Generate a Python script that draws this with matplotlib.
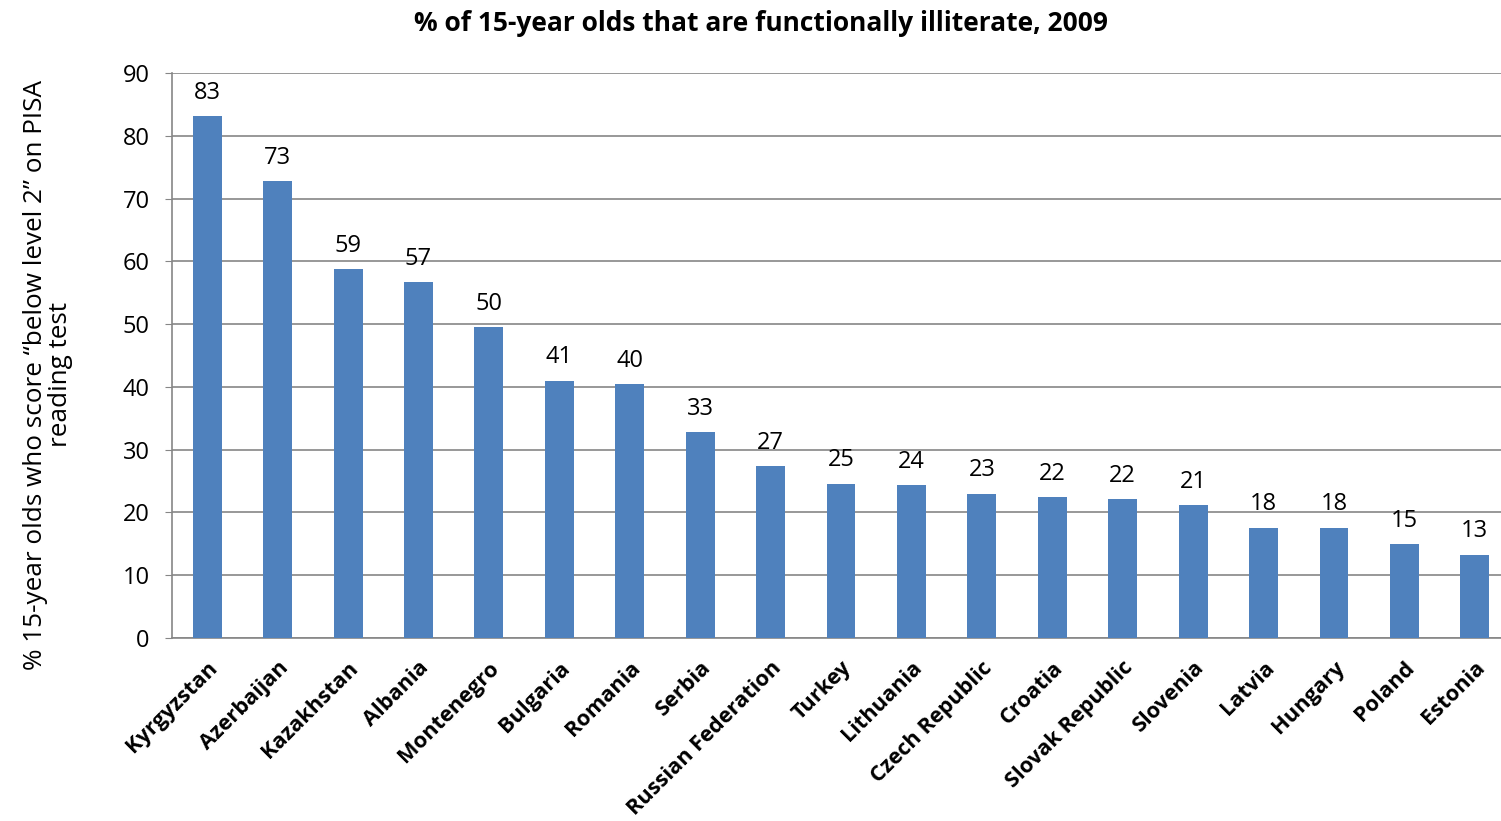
import matplotlib.pyplot as plt
import numpy as np

# share of 15-year olds scoring below PISA reading level 2 (2009)
countries = ['Kyrgyzstan', 'Azerbaijan', 'Kazakhstan', 'Albania', 'Montenegro',
             'Bulgaria', 'Romania', 'Serbia', 'Russian Federation', 'Turkey',
             'Lithuania', 'Czech Republic', 'Croatia', 'Slovak Republic',
             'Slovenia', 'Latvia', 'Hungary', 'Poland', 'Estonia']
pct_below2 = [83.2, 72.8, 58.7, 56.7, 49.5, 41.0, 40.4, 32.8, 27.4, 24.6,
              24.3, 23.0, 22.4, 22.2, 21.2, 17.6, 17.6, 15.0, 13.3]
yticks = [0, 10, 20, 30, 40, 50, 60, 70, 80, 90]

plt.rcParams['font.family'] = ['Open Sans', 'DejaVu Sans']

fig = plt.figure(figsize=(15.01, 8.21), dpi=100)
# plot area runs a little past the right edge of the figure
ax = fig.add_axes([0.1146, 0.2229, 0.8914, 0.6882])

x = np.arange(len(countries))
ax.bar(x, pct_below2, width=0.41, color='#4F81BD', zorder=3)

for xi, v in zip(x, pct_below2):
    ax.annotate('%.0f' % v, (xi, v), xytext=(0, 8), textcoords='offset points',
                ha='center', va='bottom', fontsize=17)

ax.set_xlim(-0.5, len(countries) - 0.5)
ax.set_ylim(0, 90)
ax.set_yticks(yticks)
ax.tick_params(axis='y', labelsize=17, length=5, color='#868686', pad=11)
ax.tick_params(axis='x', length=0, pad=14)
ax.set_xticks(x)
ax.set_xticklabels(countries, rotation=45, ha='right', rotation_mode='anchor',
                   fontsize=15.7, fontweight='bold')

ax.grid(axis='y', color='#868686', linewidth=1.2, zorder=0)
for side in ['top', 'right']:
    ax.spines[side].set_visible(False)
ax.spines['left'].set_color('#868686')
ax.spines['bottom'].set_color('#868686')
ax.spines['left'].set_linewidth(1.2)
ax.spines['bottom'].set_linewidth(1.2)

ax.set_ylabel('% 15-year olds who score \u201cbelow level 2\u201d on PISA\nreading test',
              fontsize=18.8, linespacing=1.0)
ax.yaxis.set_label_coords(-0.074, 0.4655)
fig.suptitle('% of 15-year olds that are functionally illiterate, 2009',
             fontsize=19, fontweight='bold', x=0.507, y=0.988)

fig.savefig('out.png', dpi=100)
